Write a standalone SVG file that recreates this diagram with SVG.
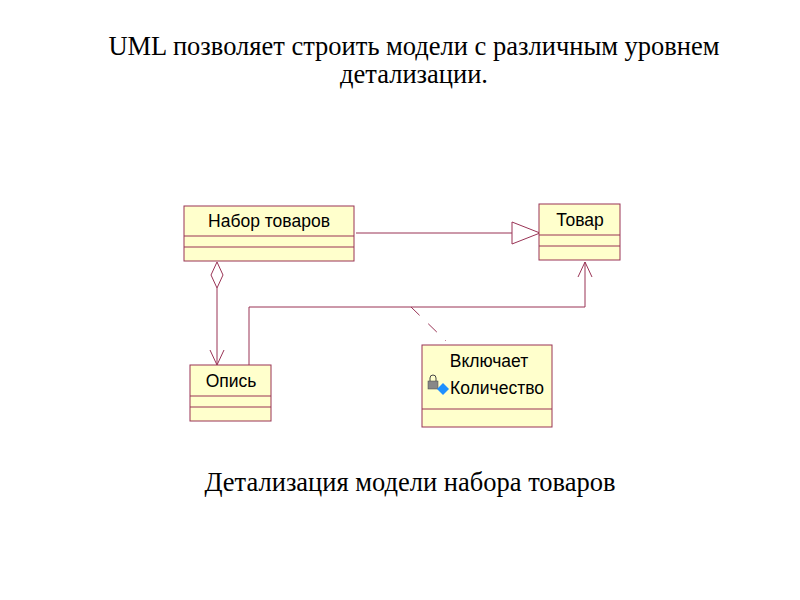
<svg xmlns="http://www.w3.org/2000/svg" width="800" height="600" viewBox="0 0 800 600">
<style>
.box{fill:#ffffcc;stroke:#993355;stroke-width:1}
.ln{fill:none;stroke:#993355;stroke-width:1}
.t{font-family:"Liberation Sans",Arial,sans-serif;font-size:17.5px;fill:#000}
.h{font-family:"Liberation Serif","Times New Roman",serif;font-size:26.5px;fill:#000}
</style>
<rect width="800" height="600" fill="#fff"/>
<text class="h" x="414" y="55" text-anchor="middle">UML позволяет строить модели с различным уровнем</text>
<text class="h" x="414" y="83" text-anchor="middle">детализации.</text>
<g id="connectors">
<line class="ln" x1="356" y1="233" x2="512" y2="233"/>
<polygon class="ln" points="512,222 540,233 512,244" fill="#fff"/>
<polygon class="ln" points="217,262 223,275 217,288 211,275" fill="#fff"/>
<line class="ln" x1="217" y1="288" x2="217" y2="365"/>
<polyline class="ln" points="210,350 217,365 224,350"/>
<polyline class="ln" points="249,365 249,307 585,307 585,262"/>
<polyline class="ln" points="578,277 585,262 592,277"/>
<line class="ln" x1="411" y1="307" x2="446" y2="341" stroke-dasharray="12,12"/>
</g>
<g id="nabor">
<rect class="box" x="184" y="206" width="170" height="55"/>
<line class="ln" x1="184" y1="236" x2="354" y2="236"/>
<line class="ln" x1="184" y1="247" x2="354" y2="247"/>
<text class="t" x="269" y="227" text-anchor="middle">Набор товаров</text>
</g>
<g id="tovar">
<rect class="box" x="539" y="204" width="81" height="56"/>
<line class="ln" x1="539" y1="235" x2="620" y2="235"/>
<line class="ln" x1="539" y1="246" x2="620" y2="246"/>
<text class="t" x="580" y="226" text-anchor="middle">Товар</text>
</g>
<g id="opis">
<rect class="box" x="190" y="365" width="81" height="56"/>
<line class="ln" x1="190" y1="396" x2="271" y2="396"/>
<line class="ln" x1="190" y1="407" x2="271" y2="407"/>
<text class="t" x="231" y="387" text-anchor="middle">Опись</text>
</g>
<g id="vkl">
<rect class="box" x="422" y="345" width="130" height="82"/>
<line class="ln" x1="422" y1="409" x2="552" y2="409"/>
<text class="t" x="489" y="367" text-anchor="middle">Включает</text>
<rect x="428" y="381" width="10" height="8" fill="#888" stroke="#444" stroke-width="0.5"/>
<path d="M430,381 v-3 a3,3 0 0 1 6,0 v3" fill="none" stroke="#444"/>
<polygon points="437,389 443,383 449,389 443,395" fill="#1e90ff"/>
<text class="t" x="450" y="394">Количество</text>
</g>
<text class="h" x="410" y="491" text-anchor="middle">Детализация модели набора товаров</text>
</svg>
